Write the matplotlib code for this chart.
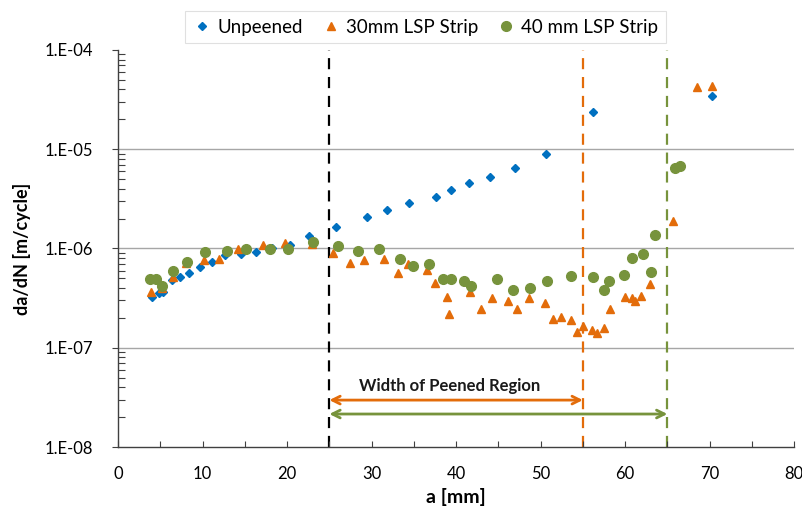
import matplotlib
matplotlib.use("Agg")
import matplotlib.pyplot as plt
from matplotlib.ticker import FixedLocator, FuncFormatter, LogLocator, NullFormatter

plt.rcParams['font.family'] = ['Lato', 'DejaVu Sans']

# Unpeened
un_a = [3.99, 4.82, 5.36, 6.36, 7.37, 8.44, 9.67, 11.09, 12.66, 14.56, 16.30, 18.26,
        20.36, 22.64, 25.76, 29.50, 31.80, 34.47, 37.67, 39.41, 41.57, 43.99, 47.02,
        50.62, 56.21, 70.26]
un_v = [3.22e-7, 3.59e-7, 3.65e-7, 4.82e-7, 5.13e-7, 5.62e-7, 6.51e-7, 7.36e-7, 8.6e-7,
        8.87e-7, 9.16e-7, 1.01e-6, 1.08e-6, 1.35e-6, 1.66e-6, 2.08e-6, 2.43e-6, 2.89e-6,
        3.30e-6, 3.86e-6, 4.54e-6, 5.25e-6, 6.52e-6, 9.02e-6, 2.37e-5, 3.42e-5]

# 30mm LSP Strip
s30_a = [3.94, 5.24, 6.54, 8.08, 10.21, 11.92, 14.20, 17.10, 19.76, 22.92, 25.41, 27.49,
         29.08, 31.48, 33.14, 34.32, 36.60, 37.55, 38.91, 39.17, 41.66, 42.92, 44.22,
         46.15, 47.22, 48.67, 50.50, 51.51, 52.39, 53.61, 54.34, 55.07, 56.06, 56.65,
         57.51, 58.26, 59.96, 60.83, 61.22, 61.89, 62.92, 65.64, 68.56, 70.30]
s30_v = [3.62e-7, 3.97e-7, 5.20e-7, 7.14e-7, 7.60e-7, 7.84e-7, 9.95e-7, 1.08e-6, 1.14e-6,
         1.10e-6, 8.95e-7, 7.19e-7, 7.66e-7, 7.78e-7, 5.70e-7, 6.93e-7, 6.07e-7, 4.52e-7,
         3.28e-7, 2.20e-7, 3.62e-7, 2.47e-7, 3.19e-7, 2.98e-7, 2.46e-7, 3.15e-7, 2.81e-7,
         1.94e-7, 2.04e-7, 1.90e-7, 1.44e-7, 1.66e-7, 1.51e-7, 1.41e-7, 1.59e-7, 2.44e-7,
         3.27e-7, 3.15e-7, 2.96e-7, 3.34e-7, 4.39e-7, 1.91e-6, 4.27e-5, 4.37e-5]

# 40 mm LSP Strip
s40_a = [3.79, 4.46, 5.21, 6.54, 8.20, 10.33, 12.93, 15.15, 18.02, 20.15, 23.08, 26.07,
         28.44, 30.92, 33.41, 34.91, 36.84, 38.43, 39.41, 40.95, 41.78, 44.85, 46.78,
         48.72, 50.80, 53.57, 56.18, 57.55, 58.11, 59.88, 60.86, 62.17, 63.11, 63.51,
         65.88, 66.51]
s40_v = [4.93e-7, 4.93e-7, 4.19e-7, 5.89e-7, 7.36e-7, 9.29e-7, 9.51e-7, 9.82e-7, 9.89e-7,
         9.95e-7, 1.15e-6, 1.05e-6, 9.44e-7, 9.95e-7, 7.78e-7, 6.71e-7, 6.98e-7, 4.93e-7,
         4.90e-7, 4.71e-7, 4.19e-7, 4.93e-7, 3.79e-7, 3.97e-7, 4.74e-7, 5.25e-7, 5.16e-7,
         3.79e-7, 4.71e-7, 5.37e-7, 8.02e-7, 8.75e-7, 5.80e-7, 1.36e-6, 6.47e-6, 6.78e-6]

series_labels = ["Unpeened", "30mm LSP Strip", "40 mm LSP Strip"]
x_ticks = [0, 10, 20, 30, 40, 50, 60, 70, 80]
y_ticks = [1e-8, 1e-7, 1e-6, 1e-5, 1e-4]
y_tick_labels = ["1.E-08", "1.E-07", "1.E-06", "1.E-05", "1.E-04"]

peen_start = 25
peen_end_30 = 55
peen_end_40 = 65
annot_text = "Width of Peened Region"

c_blue = "#0070C0"
c_orange = "#E36C0A"
c_green = "#77933C"

fig = plt.figure(figsize=(8.03, 5.15), dpi=100)
ax = fig.add_axes([0.147, 0.132, 0.842, 0.771])

ax.set_xscale('linear')
ax.set_yscale('log')
ax.set_xlim(0, 80)
ax.set_ylim(1e-8, 1e-4)

for yv in [1e-7, 1e-6, 1e-5]:
    ax.axhline(yv, color="#A6A6A6", lw=1.0, zorder=0)

ax.axvline(peen_start, color="black", lw=1.6, ls=(0, (5, 3.5)), zorder=1)
ax.axvline(peen_end_30, color=c_orange, lw=1.6, ls=(0, (5, 3.5)), zorder=1)
ax.axvline(peen_end_40, color=c_green, lw=1.6, ls=(0, (5, 3.5)), zorder=1)

ax.plot(un_a, un_v, ls='none', marker='D', ms=4.3, color=c_blue, label=series_labels[0], zorder=3)
ax.plot(s30_a, s30_v, ls='none', marker='^', ms=6.0, color=c_orange, label=series_labels[1], zorder=3)
ax.plot(s40_a, s40_v, ls='none', marker='o', ms=7.0, color=c_green, label=series_labels[2], zorder=3)

ax.annotate('', xy=(peen_start, 2.97e-8), xytext=(peen_end_30, 2.97e-8),
            arrowprops=dict(arrowstyle='<->', color=c_orange, lw=2, mutation_scale=14,
                            shrinkA=0, shrinkB=0))
ax.annotate('', xy=(peen_start, 2.15e-8), xytext=(peen_end_40, 2.15e-8),
            arrowprops=dict(arrowstyle='<->', color=c_green, lw=2, mutation_scale=14,
                            shrinkA=0, shrinkB=0))
ax.text(39.2, 4.1e-8, annot_text, ha='center', va='center', fontsize=12,
        fontweight='bold', color='#1a1a1a')

ax.set_xticks(x_ticks)
ax.xaxis.set_minor_locator(FixedLocator([5, 15, 25, 35, 45, 55, 65, 75]))
ax.tick_params(axis='x', which='both', direction='in', length=4, width=0.8,
               labelsize=12, pad=14, colors='#404040', labelcolor='black')

ax.yaxis.set_major_locator(FixedLocator(y_ticks))
ax.yaxis.set_major_formatter(FuncFormatter(lambda v, p: y_tick_labels[y_ticks.index(v)] if v in y_ticks else ''))
ax.yaxis.set_minor_locator(LogLocator(base=10, subs=[2, 3, 4, 5, 6, 7, 8, 9]))
ax.yaxis.set_minor_formatter(NullFormatter())
ax.tick_params(axis='y', which='major', direction='out', length=4, width=0.8,
               labelsize=12, pad=14, colors='#404040', labelcolor='black')
ax.tick_params(axis='y', which='minor', direction='in', length=5, width=0.8, colors='#404040')

for side in ['top', 'right']:
    ax.spines[side].set_visible(False)
for side in ['left', 'bottom']:
    ax.spines[side].set_color('#404040')
    ax.spines[side].set_linewidth(1.0)

ax.set_xlabel("a [mm]", fontsize=14, fontweight='bold', labelpad=4)
ax.set_ylabel("da/dN [m/cycle]", fontsize=13, fontweight='bold', labelpad=10)

leg = fig.legend(loc='center', bbox_to_anchor=(0.53, 0.947), ncol=3, fontsize=13.5,
                 frameon=True, fancybox=False, edgecolor='#D9D9D9', handletextpad=0.3,
                 columnspacing=1.0, borderpad=0.4, handlelength=1.0)
leg.get_frame().set_linewidth(0.8)

fig.savefig("out.png", dpi=100)
